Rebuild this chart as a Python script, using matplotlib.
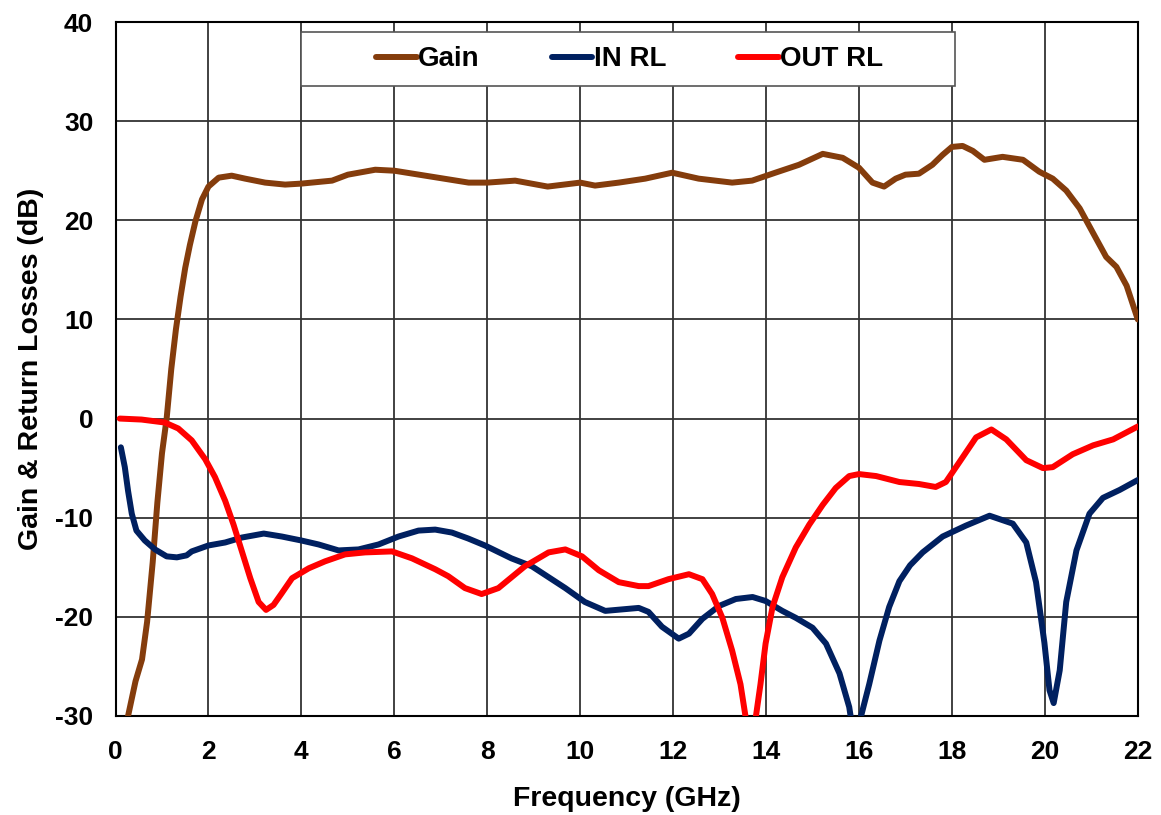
import numpy as np
import matplotlib.pyplot as plt
from matplotlib.patches import Rectangle

plt.rcParams['font.family'] = ['Liberation Sans', 'DejaVu Sans']
plt.rcParams['font.weight'] = 'bold'
plt.rcParams['axes.unicode_minus'] = False

# values (GHz, dB)
gain_f = [0.27, 0.43, 0.57, 0.68, 0.8, 0.9, 1.0, 1.1, 1.2, 1.3, 1.4, 1.5, 1.6, 1.72,
          1.86, 2.0, 2.22, 2.5, 2.79, 3.22, 3.65, 4.0, 4.66, 5.0, 5.59, 6.0, 6.8, 7.6, 8.0,
          8.6, 9.3, 10.0, 10.32, 10.83, 11.4, 11.98, 12.55, 13.27, 13.7, 14.2, 14.71, 15.22,
          15.65, 16.0, 16.29, 16.54, 16.79, 17.0, 17.29, 17.58, 17.8, 18.0, 18.23, 18.45,
          18.7, 19.09, 19.53, 19.88, 20.17, 20.46, 20.75, 21.04, 21.32, 21.54, 21.76, 22.0]
gain_db = [-30, -26.5, -24.3, -20.5, -14.5, -8.5, -3.5, 0.0, 5.0, 9.0, 12.3, 15.2, 17.5, 19.9,
           22.1, 23.4, 24.3, 24.5, 24.2, 23.8, 23.6, 23.7, 24.0, 24.6, 25.1, 25.0, 24.4, 23.8, 23.8,
           24.0, 23.4, 23.8, 23.5, 23.8, 24.2, 24.8, 24.2, 23.8, 24.0, 24.8, 25.6, 26.7,
           26.3, 25.3, 23.8, 23.4, 24.2, 24.6, 24.7, 25.6, 26.6, 27.4, 27.5, 27.0,
           26.1, 26.4, 26.1, 24.9, 24.2, 23.0, 21.2, 18.7, 16.3, 15.3, 13.4, 10.0]

in_f = [0.115, 0.2, 0.27, 0.35, 0.45, 0.63, 0.85, 1.1, 1.32, 1.53, 1.64, 2.0, 2.36, 2.72,
        3.19, 3.58, 4.0, 4.37, 4.8, 5.23, 5.66, 6.09, 6.52, 6.88, 7.24, 7.59, 7.95, 8.52,
        8.96, 9.68, 10.1, 10.54, 11.26, 11.47, 11.76, 12.12, 12.34, 12.63, 12.99, 13.35,
        13.71, 13.99, 14.35, 14.64, 15.0, 15.29, 15.58, 15.79, 15.95, 16.04, 16.22, 16.44,
        16.65, 16.87, 17.1, 17.37, 17.8, 18.3, 18.81, 19.31, 19.6, 19.81, 19.99, 20.1, 20.19,
        20.32, 20.46, 20.68, 20.96, 21.25, 21.61, 22.0]
in_db = [-2.9, -4.9, -7.3, -9.6, -11.3, -12.3, -13.2, -13.9, -14.0, -13.8, -13.4, -12.8, -12.5, -12.0,
         -11.6, -11.9, -12.3, -12.7, -13.3, -13.2, -12.7, -11.9, -11.3, -11.2, -11.5, -12.1, -12.8, -14.1,
         -14.9, -17.1, -18.5, -19.4, -19.1, -19.5, -21.0, -22.2, -21.7, -20.2, -18.9, -18.2,
         -18.0, -18.4, -19.4, -20.1, -21.1, -22.7, -25.7, -29.1, -34.0, -30.1, -26.8, -22.4,
         -19.0, -16.4, -14.8, -13.5, -11.9, -10.8, -9.8, -10.6, -12.5, -16.5, -22.6, -27.4, -28.7,
         -25.4, -18.5, -13.3, -9.6, -8.0, -7.2, -6.2]

out_f = [0.09, 0.56, 1.06, 1.35, 1.64, 1.93, 2.14, 2.36, 2.54, 2.72, 2.9, 3.08, 3.24, 3.4,
         3.58, 3.8, 4.16, 4.51, 4.94, 5.37, 5.95, 6.38, 6.88, 7.16, 7.52, 7.88, 8.24, 8.81,
         9.32, 9.68, 10.04, 10.4, 10.83, 11.26, 11.47, 11.9, 12.34, 12.63, 12.84, 13.06,
         13.27, 13.45, 13.56, 13.67, 13.78, 13.88, 13.99, 14.14, 14.35, 14.64, 14.93, 15.22,
         15.5, 15.79, 16.0, 16.37, 16.87, 17.29, 17.65, 17.87, 18.16, 18.52, 18.85, 19.17,
         19.6, 19.96, 20.17, 20.6, 21.04, 21.47, 22.0]
out_db = [0.0, -0.1, -0.4, -1.0, -2.2, -4.1, -5.9, -8.3, -10.7, -13.4, -16.1, -18.5, -19.3, -18.8,
          -17.6, -16.1, -15.1, -14.4, -13.7, -13.5, -13.4, -14.1, -15.2, -15.9, -17.1, -17.7, -17.1, -14.9,
          -13.5, -13.2, -13.9, -15.3, -16.5, -16.9, -16.9, -16.2, -15.7, -16.2, -17.7, -20.1,
          -23.4, -26.8, -30.1, -34.0, -30.1, -26.8, -22.7, -19.0, -16.0, -13.0, -10.7, -8.7,
          -7.0, -5.8, -5.6, -5.8, -6.4, -6.6, -6.9, -6.4, -4.4, -1.9, -1.1, -2.1,
          -4.2, -5.0, -4.9, -3.6, -2.7, -2.1, -0.8]

fig = plt.figure(figsize=(11.61, 8.15), dpi=100)
ax = fig.add_axes([0.0995, 0.1215, 0.8805, 0.8515])

ax.plot(gain_f, gain_db, color='#843C0C', lw=4.3, label='Gain', solid_capstyle='round', zorder=3)
ax.plot(in_f, in_db, color='#002060', lw=4.3, label='IN RL', solid_capstyle='round', zorder=3)
ax.plot(out_f, out_db, color='#FF0000', lw=4.3, label='OUT RL', solid_capstyle='round', zorder=3)

ax.set_xlim(0, 22)
ax.set_ylim(-30, 40)
ax.set_xticks(np.arange(0, 23, 2))
ax.set_yticks(np.arange(-30, 41, 10))
ax.tick_params(length=0, labelsize=19)
ax.tick_params(axis='x', pad=17)
ax.tick_params(axis='y', pad=16)
ax.grid(True, color='#333333', lw=1.3)
ax.set_axisbelow(True)
for s in ax.spines.values():
    s.set_linewidth(1.5)
    s.set_color('black')

ax.set_xlabel('Frequency (GHz)', fontsize=20.5, fontweight='bold', labelpad=16)
ax.set_ylabel('Gain & Return Losses (dB)', fontsize=20.5, fontweight='bold', labelpad=8)

# legend box
ax.add_patch(Rectangle((0.181, 0.9085), 0.64, 0.0775, transform=ax.transAxes,
                       facecolor='white', edgecolor='#555555', lw=1.2, zorder=4))
leg = ax.legend(loc='center', bbox_to_anchor=(0.503, 0.946), ncol=3, frameon=False,
                fontsize=20, handlelength=1.45, handletextpad=0.05, columnspacing=2.6)
leg.set_zorder(5)
for t in leg.get_texts():
    t.set_fontweight('bold')

fig.savefig('out.png', dpi=100)
